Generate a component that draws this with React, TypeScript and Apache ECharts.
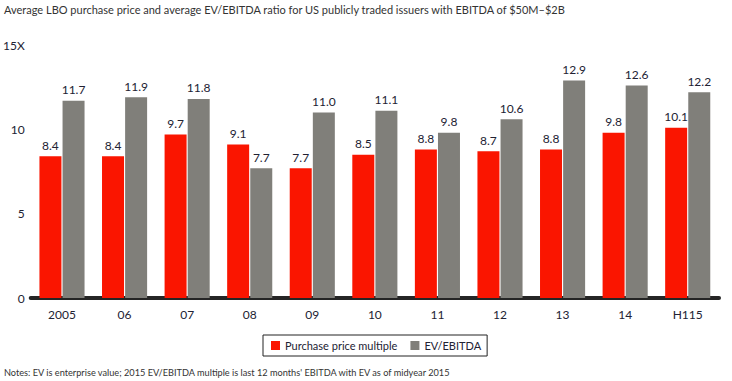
import React, { useEffect, useRef } from "react";
import * as echarts from "echarts";

const categories = ["2005", "06", "07", "08", "09", "10", "11", "12", "13", "14", "H115"];
const purchasePrice = [8.4, 8.4, 9.7, 9.1, 7.7, 8.5, 8.8, 8.7, 8.8, 9.8, 10.1];
const evEbitda = [11.7, 11.9, 11.8, 7.7, 11.0, 11.1, 9.8, 10.6, 12.9, 12.6, 12.2];
const yTicks = [0, 5, 10, 15];

const FONT = "Lato, 'Noto Sans', sans-serif";
const TEXT = "#222233";

export default function App() {
  const ref = useRef<HTMLDivElement>(null);
  useEffect(() => {
    if (!ref.current) return;
    const chart = echarts.init(ref.current, null, { renderer: "svg" });
    chart.setOption({
      animation: false,
      textStyle: { fontFamily: FONT },
      title: {
        text: "Average LBO purchase price and average EV/EBITDA ratio for US publicly traded issuers with EBITDA of $50M–$2B",
        left: 4,
        top: 4,
        padding: 0,
        textStyle: { fontSize: 11, fontWeight: "normal", color: "#333", fontFamily: FONT },
      },
      legend: {
        left: 263,
        top: 335,
        padding: [5, 6, 5, 8],
        borderColor: "#222",
        borderWidth: 1,
        borderRadius: 0,
        itemWidth: 9,
        itemHeight: 9,
        itemGap: 13,
        icon: "rect",
        textStyle: { fontSize: 11, color: TEXT, fontFamily: FONT },
        data: ["Purchase price multiple", "EV/EBITDA"],
      },
      graphic: [
        {
          type: "text",
          left: 4,
          top: 368,
          style: {
            text: "Notes: EV is enterprise value; 2015 EV/EBITDA multiple is last 12 months' EBITDA with EV as of midyear 2015",
            fontSize: 9.2,
            fill: "#333",
            fontFamily: FONT,
          },
        },
      ],
      grid: { left: 28, right: 13, top: 45, bottom: 83, containLabel: false },
      xAxis: {
        type: "category",
        data: categories,
        axisLine: { show: true, lineStyle: { color: "#252525", width: 4 } },
        axisTick: { show: false },
        axisLabel: { color: TEXT, fontSize: 12, margin: 10, fontFamily: FONT },
      },
      yAxis: {
        type: "value",
        min: yTicks[0],
        max: yTicks[yTicks.length - 1],
        interval: 5,
        splitLine: { show: false },
        axisLine: { show: false },
        axisTick: { show: false },
        axisLabel: {
          color: TEXT,
          fontSize: 12,
          margin: 6,
          fontFamily: FONT,
          verticalAlign: "middle",
          formatter: (v: number) => (v === 15 ? "15X" : String(v)),
        },
      },
      series: [
        {
          name: "Purchase price multiple",
          type: "bar",
          data: purchasePrice,
          barWidth: 22,
          barGap: "5%",
          itemStyle: { color: "#fa1500" },
          label: {
            show: true,
            position: "top",
            distance: 5,
            color: TEXT,
            fontSize: 12,
            fontFamily: FONT,
            formatter: (p: any) => p.value.toFixed(1),
          },
        },
        {
          name: "EV/EBITDA",
          type: "bar",
          data: evEbitda,
          barWidth: 22,
          itemStyle: { color: "#807f7a" },
          label: {
            show: true,
            position: "top",
            distance: 5,
            color: TEXT,
            fontSize: 12,
            fontFamily: FONT,
            formatter: (p: any) => p.value.toFixed(1),
          },
        },
      ],
    });
    return () => chart.dispose();
  }, []);
  return (
    <div
      ref={ref}
      style={{ position: "fixed", left: 0, top: 0, width: 732, height: 381, background: "#fff" }}
    />
  );
}
